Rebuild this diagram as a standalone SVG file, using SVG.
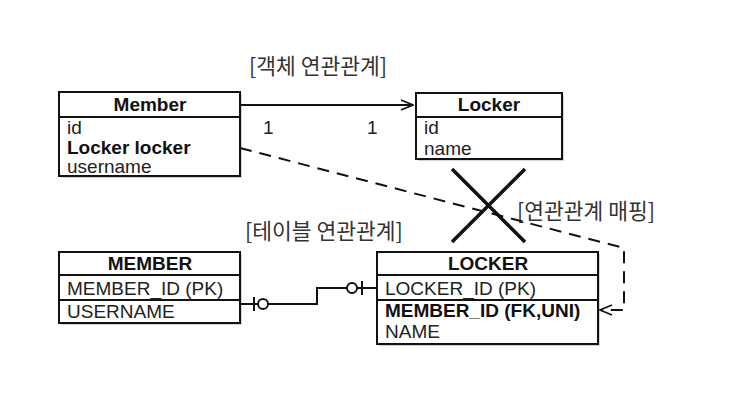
<svg xmlns="http://www.w3.org/2000/svg" width="746" height="400" viewBox="0 0 746 400">
<style>
.box{fill:#fff;stroke:#111;stroke-width:2}
.shadow{fill:#bbb;opacity:0.6}
.ln{stroke:#111;stroke-width:2;fill:none}
.t{font-family:"Liberation Sans","Noto Sans CJK KR",sans-serif;fill:#111}
.h{font-size:19px;font-weight:bold;text-anchor:middle}
.r{font-size:19px;fill:#222}
.b{font-weight:bold;fill:#111}
.k{font-family:"Noto Sans CJK KR","Liberation Sans",sans-serif;font-size:21.5px;fill:#333}
</style>
<defs>
<marker id="open" markerWidth="14" markerHeight="12" refX="13" refY="6" orient="auto" markerUnits="userSpaceOnUse">
<path d="M1,1 L13,6 L1,11" fill="none" stroke="#111" stroke-width="1.8"/>
</marker>
</defs>
<rect width="746" height="400" fill="#fff"/>

<text class="k" x="249" y="74">[객체 연관관계]</text>
<text class="k" x="517" y="219">[연관관계 매핑]</text>
<text class="k" x="245" y="239">[테이블 연관관계]</text>

<g id="Member">
<rect class="shadow" x="61" y="94" width="181" height="84"/>
<rect class="box" x="59" y="92" width="181" height="84"/>
<line class="ln" x1="59" y1="117" x2="240" y2="117"/>
<text class="t h" x="150" y="111">Member</text>
<text class="t r" x="67" y="134">id</text>
<text class="t r b" x="67" y="154">Locker locker</text>
<text class="t r" x="67" y="173">username</text>
</g>

<g id="Locker">
<rect class="shadow" x="418" y="95" width="146" height="66"/>
<rect class="box" x="416" y="93" width="146" height="66"/>
<line class="ln" x1="416" y1="117" x2="562" y2="117"/>
<text class="t h" x="489" y="111">Locker</text>
<text class="t r" x="424" y="134">id</text>
<text class="t r" x="424" y="155">name</text>
</g>

<g id="MEMBER">
<rect class="shadow" x="61" y="254" width="181" height="71"/>
<rect class="box" x="59" y="252" width="181" height="71"/>
<line class="ln" x1="59" y1="275" x2="240" y2="275"/>
<line class="ln" x1="59" y1="300" x2="240" y2="300"/>
<text class="t h" x="150" y="270">MEMBER</text>
<text class="t r" x="67" y="295">MEMBER_ID (PK)</text>
<text class="t r" x="67" y="318">USERNAME</text>
</g>

<g id="LOCKER">
<rect class="shadow" x="379" y="254" width="221" height="92"/>
<rect class="box" x="377" y="252" width="221" height="92"/>
<line class="ln" x1="377" y1="275" x2="598" y2="275"/>
<line class="ln" x1="377" y1="300" x2="598" y2="300"/>
<text class="t h" x="488" y="270">LOCKER</text>
<text class="t r" x="385" y="295">LOCKER_ID (PK)</text>
<text class="t r b" x="385" y="317">MEMBER_ID (FK,UNI)</text>
<text class="t r" x="385" y="338">NAME</text>
</g>

<g id="connectors">
<line class="ln" x1="240" y1="105" x2="413" y2="105" marker-end="url(#open)"/>
<text class="t r" x="263" y="134">1</text>
<text class="t r" x="367" y="134">1</text>
<path class="ln" d="M240,148 L624,248 L624,310 L600,310" stroke-dasharray="12,8" marker-end="url(#open)"/>
<path class="ln" d="M240,304 L317,304 L317,288 L377,288"/>
<line class="ln" x1="254" y1="297" x2="254" y2="311"/>
<circle cx="263" cy="304" r="5" fill="#fff" stroke="#111" stroke-width="2"/>
<circle cx="352" cy="288" r="5" fill="#fff" stroke="#111" stroke-width="2"/>
<line class="ln" x1="362" y1="281" x2="362" y2="295"/>
<path d="M452,169 L525,242 M525,169 L452,242" stroke="#111" stroke-width="3.5" fill="none"/>
</g>
</svg>
